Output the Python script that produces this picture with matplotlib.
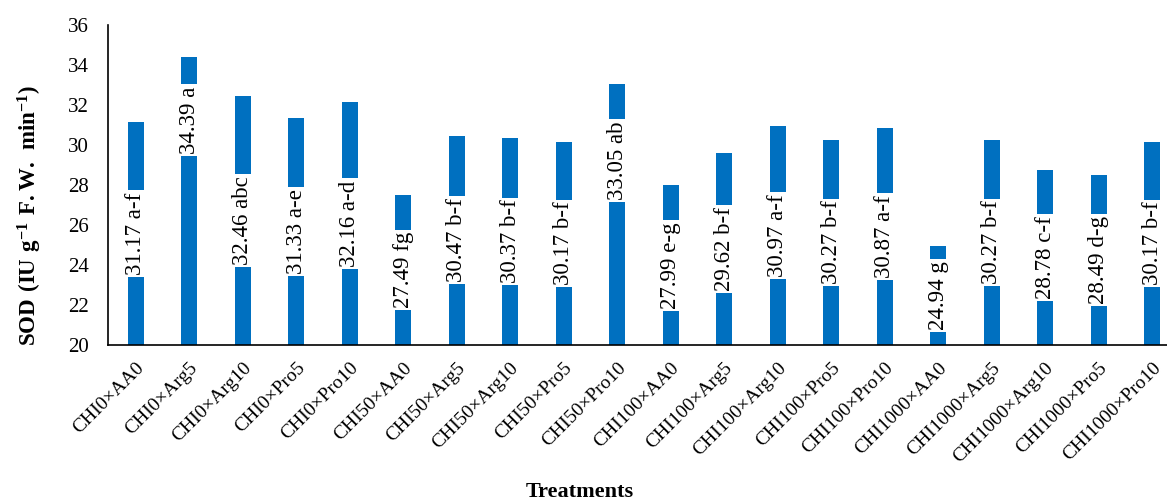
import numpy as np
import matplotlib.pyplot as plt

plt.rcParams['font.family'] = ['Liberation Serif', 'DejaVu Serif']
plt.rcParams['mathtext.fontset'] = 'custom'
plt.rcParams['mathtext.rm'] = 'Liberation Serif'
plt.rcParams['mathtext.bf'] = 'Liberation Serif:bold'

# SOD activity per treatment with Duncan letters
treatments = ["CHI0×AA0", "CHI0×Arg5", "CHI0×Arg10", "CHI0×Pro5", "CHI0×Pro10",
              "CHI50×AA0", "CHI50×Arg5", "CHI50×Arg10", "CHI50×Pro5", "CHI50×Pro10",
              "CHI100×AA0", "CHI100×Arg5", "CHI100×Arg10", "CHI100×Pro5", "CHI100×Pro10",
              "CHI1000×AA0", "CHI1000×Arg5", "CHI1000×Arg10", "CHI1000×Pro5", "CHI1000×Pro10"]
sod = [31.17, 34.39, 32.46, 31.33, 32.16, 27.49, 30.47, 30.37, 30.17, 33.05,
       27.99, 29.62, 30.97, 30.27, 30.87, 24.94, 30.27, 28.78, 28.49, 30.17]
letters = ["a-f", "a", "abc", "a-e", "a-d", "fg", "b-f", "b-f", "b-f", "ab",
           "e-g", "b-f", "a-f", "b-f", "a-f", "g", "b-f", "c-f", "d-g", "b-f"]

# labels sit at bar middle, a couple were nudged upward
label_shift = {1: 4.05, 9: 2.7}

ymin = 20
x = np.arange(len(sod))

fig = plt.figure(figsize=(11.67, 5.01), dpi=100)
ax = fig.add_axes([0.0925, 0.311, 1.0 - 0.0925, 0.639])

ax.bar(x, np.array(sod) - ymin, bottom=ymin, width=0.3, color="#0070C0", zorder=2)

for i, (v, lab) in enumerate(zip(sod, letters)):
    yc = (ymin + v) / 2 + label_shift.get(i, 0)
    ax.text(i, yc, f"{v:.2f} {lab}", rotation=90, ha="center", va="center",
            fontsize=16.5, zorder=3,
            bbox=dict(facecolor="white", edgecolor="none", pad=1.5))

ax.set_ylim(20, 36)
ax.set_yticks(range(20, 37, 2))
ax.set_xlim(-0.52, 19.28)
ax.set_xticks(x)
ax.set_xticklabels(treatments, rotation=45, ha="right", rotation_mode="anchor",
                   fontsize=14)
ax.tick_params(axis="both", length=0)
ax.tick_params(axis="y", pad=14, labelsize=15)
ax.tick_params(axis="x", pad=10)

for s in ["top", "right"]:
    ax.spines[s].set_visible(False)
for s in ["left", "bottom"]:
    ax.spines[s].set_linewidth(1.2)

fig.text(0.026, 0.57, r"$\mathbf{SOD\ (IU\ g^{-1}\ F.W.\ min^{-1})}$",
         rotation=90, ha="center", va="center", fontsize=16.5)
fig.text(0.497, 0.018, "Treatments", ha="center", va="center",
         fontsize=16, fontweight="bold")

fig.savefig("out.png", dpi=100)
